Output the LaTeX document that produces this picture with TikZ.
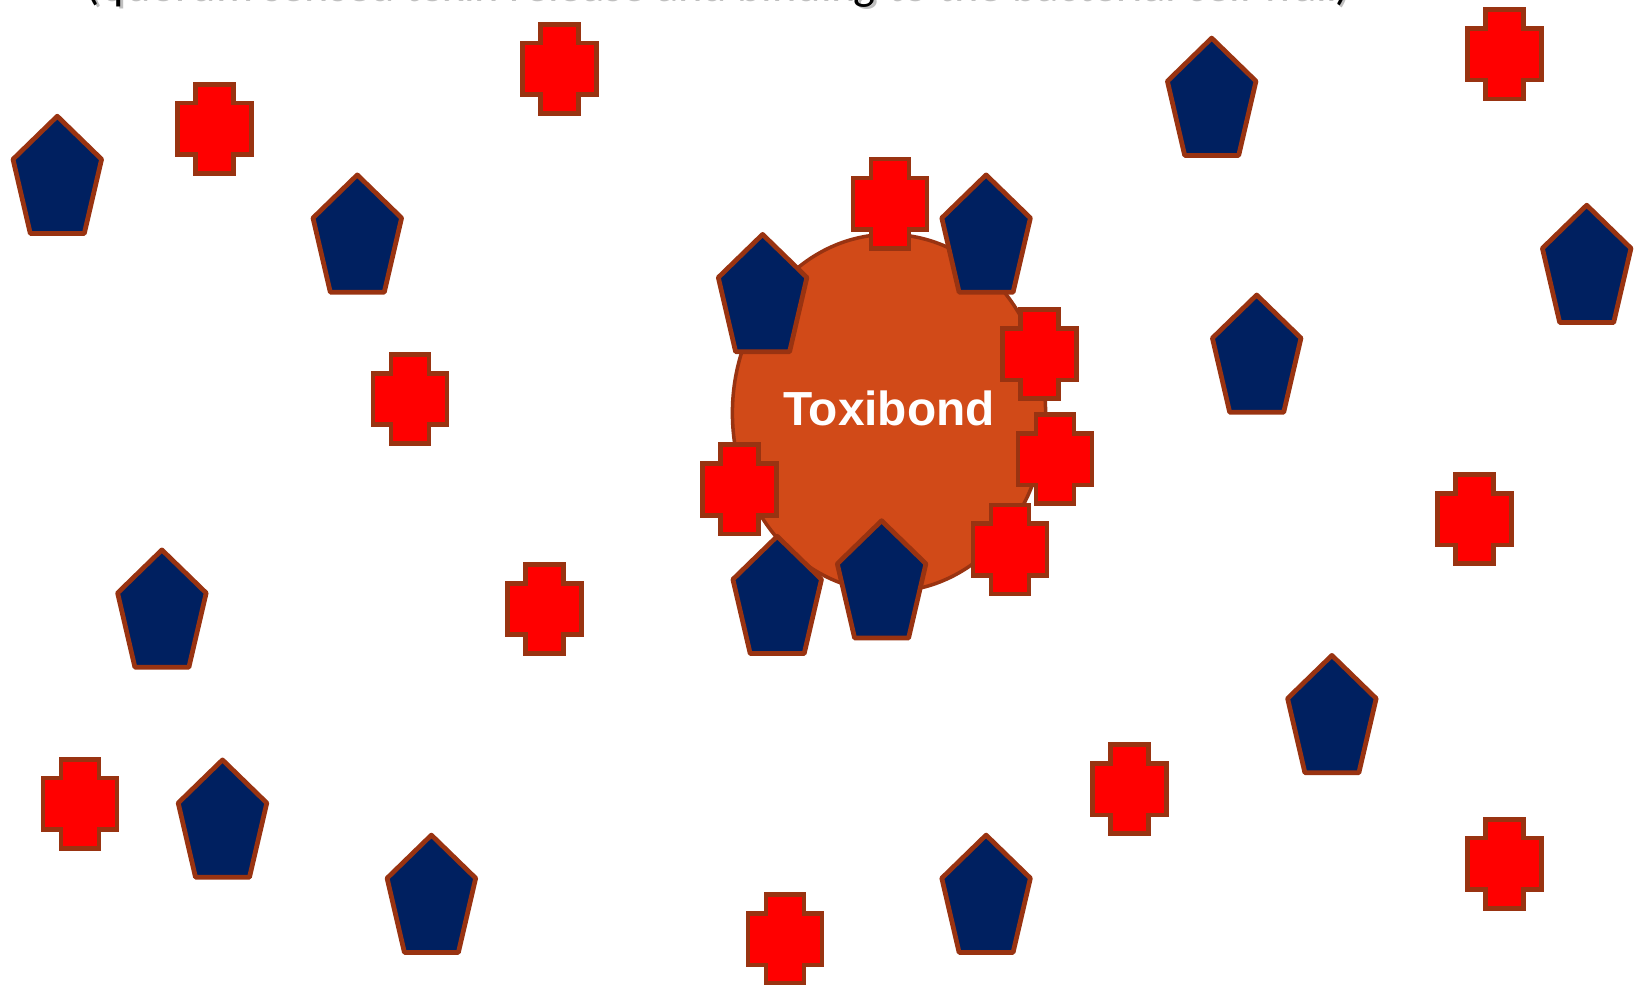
\documentclass[tikz,border=0pt]{standalone}
\usepackage{fontspec}
\setmainfont{Carlito}
\newfontfamily\blobfont{Liberation Sans}
\usetikzlibrary{shapes.geometric}

\definecolor{rimbrown}{RGB}{153,51,17}
\definecolor{blobfill}{RGB}{209,74,24}
\definecolor{pentnavy}{RGB}{0,32,96}
\definecolor{plusred}{RGB}{255,0,0}

\begin{document}
\begin{tikzpicture}[
  x = 0.01cm, y = -0.01cm,
  pentline/.style = {draw=rimbrown, fill=pentnavy, line width=1.35pt, line join=round},
  plusline/.style = {draw=rimbrown, fill=plusred, line width=1.35pt, line join=miter},
  blob/.style = {
    ellipse, draw=rimbrown, fill=blobfill, line width=1pt,
    minimum width=3.13cm, minimum height=3.57cm, inner sep=0pt,
    text=white, font=\blobfont\fontsize{13.6pt}{15pt}\selectfont\bfseries
  },
  titletext/.style = {font=\fontsize{13.2pt}{15pt}\selectfont, inner sep=0pt},
  penta/.pic = {
    \draw[pentline] (0,3.5) -- (44.3,46.6) -- (27,120.8) -- (-27,120.8) -- (-44.3,46.6) -- cycle;
  },
  plus/.pic = {
    \draw[plusline] (-19,-44.6) -- (19,-44.6) -- (19,-25.8) -- (37,-25.8) -- (37,25.8) -- (19,25.8)
      -- (19,44.6) -- (-19,44.6) -- (-19,25.8) -- (-37,25.8) -- (-37,-25.8) -- (-19,-25.8) -- cycle;
  }
]
\useasboundingbox (0,0) rectangle (1638,985);

% Heading, cut off by the top edge
\node[titletext, text=black!25, anchor=base west] (heading shadow) at (87.5,1.5)
  {(quorum sensed toxin release and binding to the bacterial cell wall)};
\node[titletext, anchor=base west] (heading) at (85,-0.8)
  {(quorum sensed toxin release and binding to the bacterial cell wall)};

% Toxibond
\node[blob] (toxibond) at (889,413) {\raisebox{0.1cm}{Toxibond}};

% Crosses
\pic at (214.8,128.8) {plus};
\pic at (559.4,68.9) {plus};
\pic at (1504.7,54.3) {plus};
\pic at (410.0,399.0) {plus};
\pic at (890.0,203.7) {plus};
\pic at (1039.4,354.1) {plus};
\pic at (1055.0,459.1) {plus};
\pic at (739.6,489.4) {plus};
\pic at (1010.1,549.5) {plus};
\pic at (544.8,609.0) {plus};
\pic at (1474.4,519.2) {plus};
\pic at (79.9,803.8) {plus};
\pic at (1129.7,789.2) {plus};
\pic at (1504.7,863.9) {plus};
\pic at (785.0,939.1) {plus};

% Pentagons
\pic at (57.3,112.7) {penta};
\pic at (357.3,171.4) {penta};
\pic at (1211.7,34.6) {penta};
\pic at (1586.7,201.7) {penta};
\pic at (1256.7,291.5) {penta};
\pic at (762.6,230.9) {penta};
\pic at (986.1,171.4) {penta};
\pic at (161.9,546.4) {penta};
\pic at (777.2,532.8) {penta};
\pic at (881.6,517.2) {penta};
\pic at (1331.9,651.9) {penta};
\pic at (222.5,756.4) {penta};
\pic at (431.4,831.6) {penta};
\pic at (986.1,831.6) {penta};

\end{tikzpicture}
\end{document}
